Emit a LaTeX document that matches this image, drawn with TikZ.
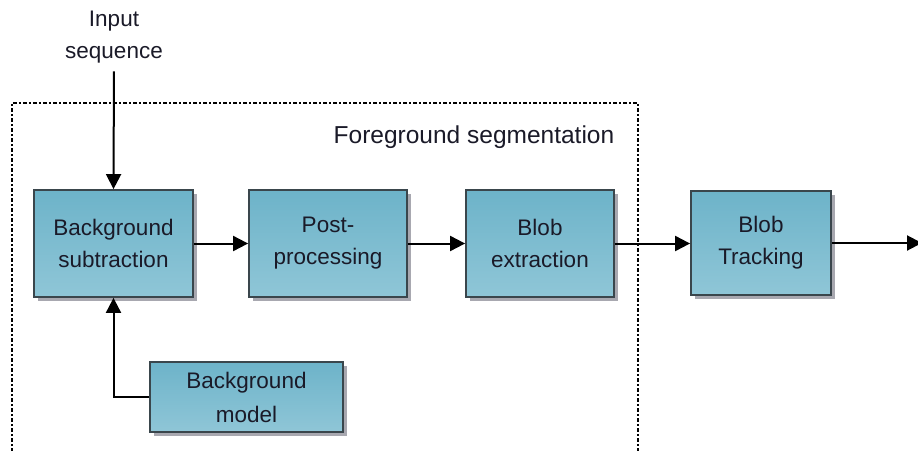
\documentclass[tikz,border=0pt]{standalone}
\usepackage{fontspec}
\setmainfont{Liberation Sans}
\usetikzlibrary{arrows.meta,shadows}
\definecolor{boxtop}{HTML}{6DB3C9}
\definecolor{boxbot}{HTML}{8FC6D7}
\definecolor{boxedge}{HTML}{3A464C}
\definecolor{shadowc}{HTML}{A8A8B0}
\definecolor{txt}{HTML}{1A1A28}
\begin{document}
\begin{tikzpicture}[x=1pt,y=-1pt,
  procbox/.style={rectangle, draw=boxedge, line width=1.8pt, top color=boxtop, bottom color=boxbot,
    align=center, text=txt, font=\fontsize{22.5}{32}\selectfont, inner sep=0pt,
    drop shadow={shadow xshift=4pt, shadow yshift=-4pt, fill=shadowc, opacity=1}},
  conn/.style={line width=2pt, -{Triangle[length=15pt,width=15pt]}},
  lbl/.style={align=center, text=txt, font=\fontsize{22.5}{32}\selectfont, inner sep=0pt}]
\useasboundingbox (0,0) rectangle (918,450);
% dotted frame
\draw[line width=1.6pt, dash pattern=on 4pt off 2pt on 2pt off 2pt] (12,452) -- (12,103) -- (638,103) -- (638,452);
\node[lbl, font=\fontsize{24.5}{30}\selectfont] (fg) at (474,137) {Foreground segmentation};
% boxes
\node[procbox, minimum width=159pt, minimum height=107pt] (bs) at (113.5,243.5) {Background\\subtraction};
\node[procbox, minimum width=158pt, minimum height=107pt] (pp) at (328,243.5) {Post-\\processing};
\node[procbox, minimum width=148pt, minimum height=107pt] (be) at (540,243.5) {Blob\\extraction};
\node[procbox, minimum width=140pt, minimum height=104pt] (bt) at (761,243) {Blob\\Tracking};
\node[procbox, minimum width=193pt, minimum height=70pt, font=\fontsize{22.5}{34}\selectfont] (bm) at (246.5,397) {Background\\model};
% input
\node[lbl] (inp) at (114,37) {Input\\sequence};
\coordinate (out) at (922,243);
% connectors
\draw[conn, shorten <=8pt] (inp.south) -- (bs.north);
\draw[conn] (bs.east) -- (pp.west);
\draw[conn] (pp.east) -- (be.west);
\draw[conn] (be.east) -- (be.east -| bt.west);
\draw[conn] (bt.east) -- (out);
\draw[conn] (bm.west) -| (bs.south);
\end{tikzpicture}
\end{document}
